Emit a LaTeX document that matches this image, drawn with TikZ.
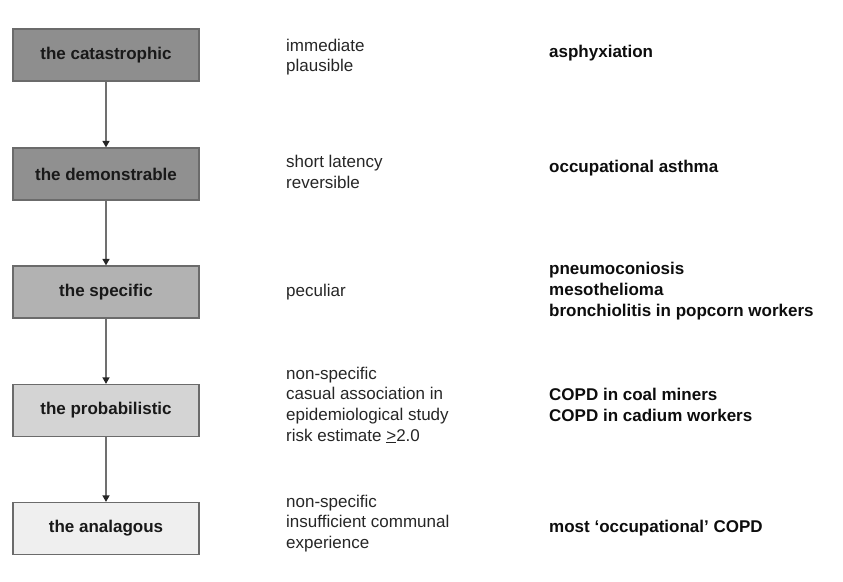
\documentclass[tikz,border=0pt]{standalone}
\usepackage{fontspec}
\setmainfont{Liberation Sans}
\usepackage{tikz}
\usetikzlibrary{positioning,arrows.meta}
\definecolor{edgegray}{HTML}{6B6B6B}
\definecolor{arrowgray}{HTML}{707070}
\definecolor{levelA}{HTML}{8E8E8E}
\definecolor{levelB}{HTML}{909090}
\definecolor{levelC}{HTML}{B2B2B2}
\definecolor{levelD}{HTML}{D4D4D4}
\definecolor{levelE}{HTML}{EFEFEF}
\newcommand{\labelfont}{\fontsize{17}{20.7}\selectfont}

\begin{document}
\begin{tikzpicture}[x=1pt, y=-1pt,
    levelbox/.style={draw=edgegray, line width=1.2pt, minimum width=186pt, minimum height=52pt,
        inner sep=0pt, font=\labelfont\bfseries, text=black!90},
    traitnote/.style={anchor=west, align=left, inner sep=0pt, font=\labelfont, text=black!85},
    casenote/.style={anchor=west, align=left, inner sep=0pt, font=\labelfont\bfseries, text=black!95},
    stepline/.style={-{Triangle[width=7pt, length=6.5pt, color=black!85]}, line width=1.4pt, draw=arrowgray}]
    \useasboundingbox (0,0) rectangle (843,581);

    % Livelli di evidenza
    \node[levelbox, fill=levelA] (catastrophic) at (106,55) {the catastrophic};
    \node[levelbox, fill=levelB] (demonstrable) at (106,174) {the demonstrable};
    \node[levelbox, fill=levelC] (specific) at (106,292) {the specific};
    \node[levelbox, fill=levelD] (probabilistic) at (106,410.5) {the probabilistic};
    \node[levelbox, fill=levelE] (analagous) at (106,528.5) {the analagous};

    % Frecce tra i livelli
    \draw[stepline] (catastrophic) -- (demonstrable);
    \draw[stepline] (demonstrable) -- (specific);
    \draw[stepline] (specific) -- (probabilistic);
    \draw[stepline] (probabilistic) -- (analagous);

    % Caratteristiche
    \node[traitnote] (traitA) at (286,57) {immediate\\plausible};
    \node[traitnote] (traitB) at (286,172) {short latency\\reversible};
    \node[traitnote] (traitC) at (286,292) {peculiar};
    \node[traitnote] (traitD) at (286,405) {non-specific\\casual association in\\epidemiological study\\risk estimate \underline{>}2.0};
    \node[traitnote] (traitE) at (286,523.5) {non-specific\\insufficient communal\\experience};

    % Esempi
    \node[casenote] (caseA) at (549,53.5) {asphyxiation};
    \node[casenote] (caseB) at (549,168) {occupational asthma};
    \node[casenote] (caseC) at (549,291) {pneumoconiosis\\mesothelioma\\bronchiolitis in popcorn workers};
    \node[casenote] (caseD) at (549,405) {COPD in coal miners\\COPD in cadium workers};
    \node[casenote] (caseE) at (549,528.5) {most ‘occupational’ COPD};
\end{tikzpicture}
\end{document}
